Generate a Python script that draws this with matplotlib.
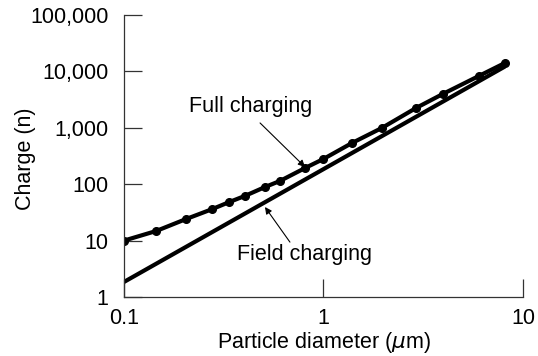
import matplotlib.pyplot as plt
from matplotlib.ticker import FixedLocator, FuncFormatter, NullLocator
import numpy as np

plt.rcParams['font.family'] = ['Liberation Sans', 'DejaVu Sans']

# full charging curve (diameter in um, charge n)
full_d = [0.1, 0.145, 0.204, 0.276, 0.336, 0.404, 0.509, 0.605, 0.81, 1.0,
          1.39, 1.96, 2.91, 3.97, 6.02, 8.13]
full_n = [10, 14.8, 24, 36, 48, 62, 89, 114, 194, 280,
          537, 990, 2240, 3980, 8300, 14100]

# field charging line
field_d = [0.1, 8.13]
field_n = [1.85, 12200]

x_ticks = [0.1, 1, 10]
y_ticks = [1, 10, 100, 1000, 10000, 100000]

FS = 15.5

fig = plt.figure(figsize=(5.38, 3.56), dpi=100)
ax = fig.add_axes([0.2305, 0.1657, 0.7415, 0.7923])

ax.plot(field_d, field_n, color='black', lw=3.0, solid_capstyle='butt')
ax.plot(full_d, full_n, color='black', lw=3.0, marker='o', ms=5.5)

ax.set_xscale('log')
ax.set_yscale('log')
ax.set_xlim(0.1, 10)
ax.set_ylim(1, 100000)

ax.xaxis.set_major_locator(FixedLocator(x_ticks))
ax.yaxis.set_major_locator(FixedLocator(y_ticks))
ax.xaxis.set_minor_locator(NullLocator())
ax.yaxis.set_minor_locator(NullLocator())
ax.xaxis.set_major_formatter(FuncFormatter(lambda v, p: f'{v:g}'))
ax.yaxis.set_major_formatter(FuncFormatter(lambda v, p: f'{int(v):,}'))

for s in ['top', 'right']:
    ax.spines[s].set_visible(False)
for s in ['left', 'bottom']:
    ax.spines[s].set_linewidth(0.9)
    ax.spines[s].set_color('#333333')

ax.tick_params(axis='both', direction='in', length=13, width=0.9,
               color='#333333', labelsize=FS)
ax.tick_params(axis='y', pad=11)
ax.tick_params(axis='x', pad=8)

ax.set_xlabel('Particle diameter ($\\mu$m)', fontsize=FS, va='center')
ax.xaxis.set_label_coords(0.502, -0.16)
ax.set_ylabel('Charge (n)', fontsize=FS, va='center')
ax.yaxis.set_label_coords(-0.248, 0.49)

arrow = dict(arrowstyle='-|>', color='black', lw=0.8, mutation_scale=10,
             shrinkA=0, shrinkB=0)
ax.text(0.433, 2340, 'Full charging', ha='center', va='center', fontsize=FS)
ax.annotate('', xy=(0.808, 202), xytext=(0.481, 1217), arrowprops=arrow)
ax.text(0.80, 5.6, 'Field charging', ha='center', va='center', fontsize=FS)
ax.annotate('', xy=(0.509, 39.4), xytext=(0.679, 9.4), arrowprops=arrow)

fig.savefig('out.png', dpi=100)
